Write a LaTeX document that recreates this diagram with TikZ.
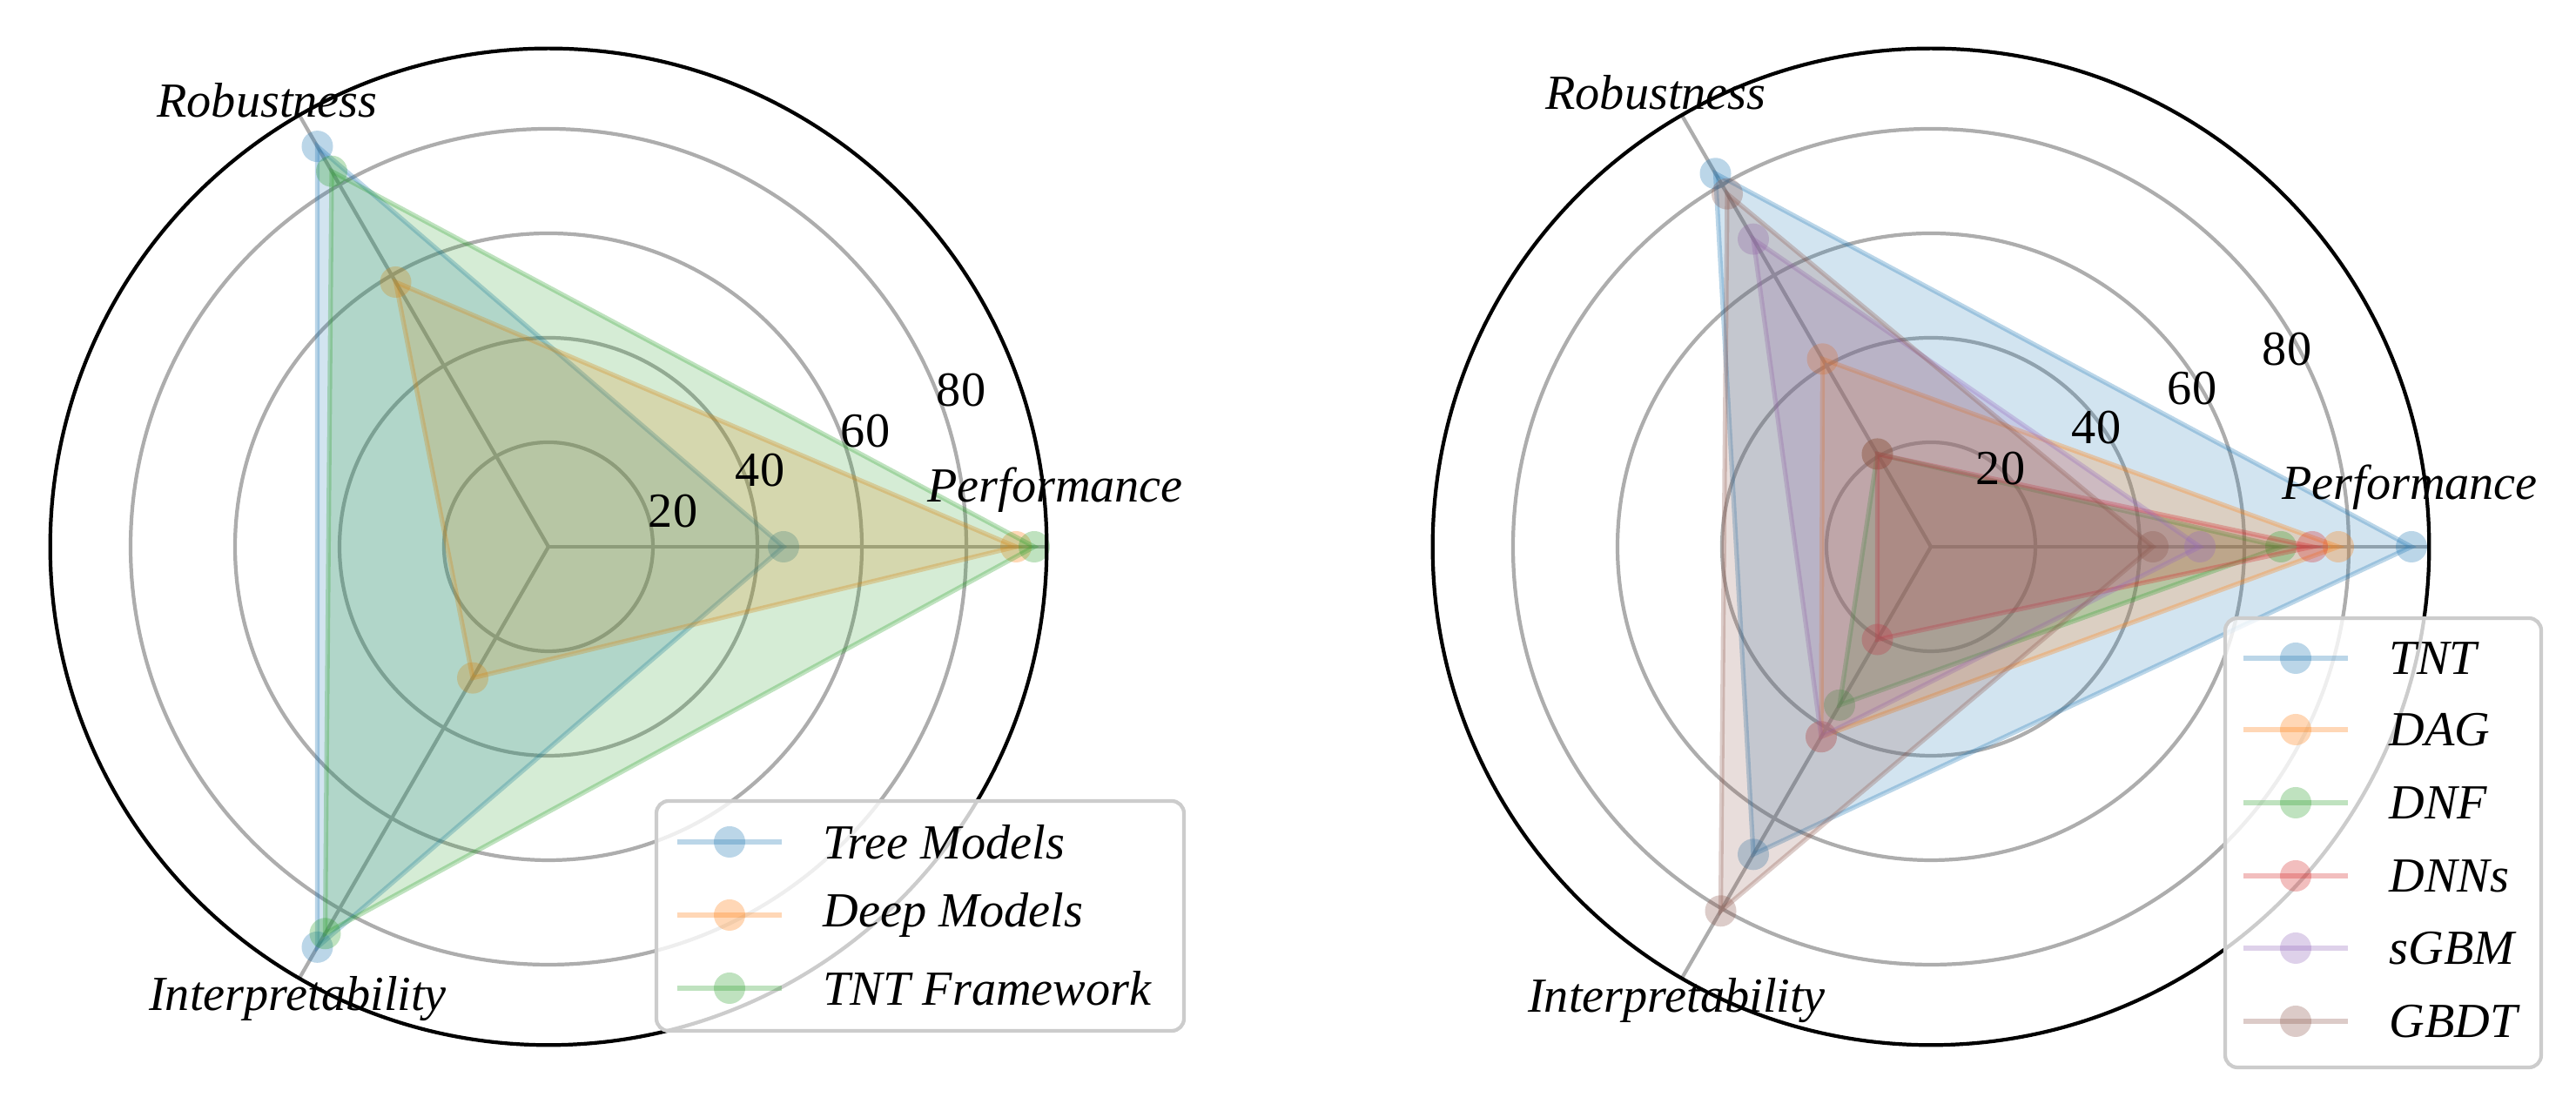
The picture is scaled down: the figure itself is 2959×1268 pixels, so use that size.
\documentclass[tikz,border=0pt]{standalone}
\usepackage{fontspec}
\setmainfont{Liberation Serif}
\usetikzlibrary{calc}
\definecolor{c0}{HTML}{1F77B4}
\definecolor{c1}{HTML}{FF7F0E}
\definecolor{c2}{HTML}{2CA02C}
\definecolor{c3}{HTML}{D62728}
\definecolor{c4}{HTML}{9467BD}
\definecolor{c5}{HTML}{8C564B}
\tikzset{
  grid/.style={draw=black!32, line width=1.2pt},
  outer/.style={draw=black, line width=1.2pt},
  lbl/.style={font=\fontsize{16}{19}\selectfont\itshape, inner sep=0pt},
  tick/.style={font=\fontsize{16}{19}\selectfont, inner sep=0pt},
  legbox/.style={draw=black!20, line width=1.2pt, fill=white, fill opacity=0.8, rounded corners=4pt},
}
% #1 colour, #2 P, #3 R, #4 I
\newcommand\myradar[4]{%
  \fill[#1, opacity=0.2] (0:{6*#2}) -- (120:{6*#3}) -- (240:{6*#4}) -- cycle;
  \draw[#1, opacity=0.3, line width=1.5pt] (0:{6*#2}) -- (120:{6*#3}) -- (240:{6*#4}) -- cycle;
  \foreach \a/\v in {0/#2,120/#3,240/#4} \fill[#1, opacity=0.3] (\a:{6*\v}) circle (0.18cm);
}
\newcommand\mygrid{%
  \foreach \r in {120,240,360,480} \draw[grid] (0,0) circle ({\r*0.01cm});
  \foreach \a in {0,120,240} \draw[grid] (0,0) -- (\a:572);
}
\newcommand\legentry[3]{% y, colour, text
  \draw[#2, opacity=0.3, line width=1.5pt] (0,#1) -- (120,#1);
  \fill[#2, opacity=0.3] (60,#1) circle (0.18cm);
  \node[lbl, anchor=west] at (167,#1) {#3};
}
\begin{document}
\begin{tikzpicture}[x=0.01cm,y=0.01cm]
\useasboundingbox (0,0) rectangle (2959,1268);
% ---------- left chart ----------
\begin{scope}[shift={(630,640)}]
  \mygrid
  \myradar{c0}{45}{88.5}{88.5}
  \myradar{c1}{89.5}{58.5}{29}
  \myradar{c2}{93}{83}{85.5}
  \draw[outer] (0,0) circle (5.72cm);
  \node[tick] (l20) at (143,41) {20};
  \node[tick] (l40) at (243,88) {40};
  \node[tick] (l60) at (364,133) {60};
  \node[tick] (l80) at (474,180) {80};
  \node[lbl] (lp) at (582,65) {Performance};
  \node[lbl] (lr) at (-323,513) {Robustness};
  \node[lbl] (li) at (-288,-519) {Interpretability};
\end{scope}
\path[legbox] (754,84) rectangle (1360,348);
\begin{scope}[shift={(778,0)}]
  \legentry{301}{c0}{Tree Models}
  \legentry{217}{c1}{Deep Models}
  \legentry{133}{c2}{TNT Framework}
\end{scope}
% ---------- right chart ----------
\begin{scope}[shift={(2218,640)}]
  \mygrid
  \myradar{c0}{92}{82.5}{68}
  \myradar{c1}{78}{41.5}{42}
  \myradar{c2}{67}{20.5}{35}
  \myradar{c3}{73}{20.5}{20.5}
  \myradar{c4}{51.5}{68}{42}
  \myradar{c5}{42.5}{78}{80.5}
  \draw[outer] (0,0) circle (5.72cm);
  \node[tick] (r20) at (80,90) {20};
  \node[tick] (r40) at (190,137) {40};
  \node[tick] (r60) at (300,182) {60};
  \node[tick] (r80) at (409,227) {80};
  \node[lbl] (rp) at (550,68) {Performance};
  \node[lbl] (rr) at (-316,522) {Robustness};
  \node[lbl] (ri) at (-292,-521) {Interpretability};
\end{scope}
\path[legbox] (2556,42) rectangle (2919,558);
\begin{scope}[shift={(2577,0)}]
  \legentry{512}{c0}{TNT}
  \legentry{430}{c1}{DAG}
  \legentry{346}{c2}{DNF}
  \legentry{262}{c3}{DNNs}
  \legentry{179}{c4}{sGBM}
  \legentry{95}{c5}{GBDT}
\end{scope}
\end{tikzpicture}
\end{document}
